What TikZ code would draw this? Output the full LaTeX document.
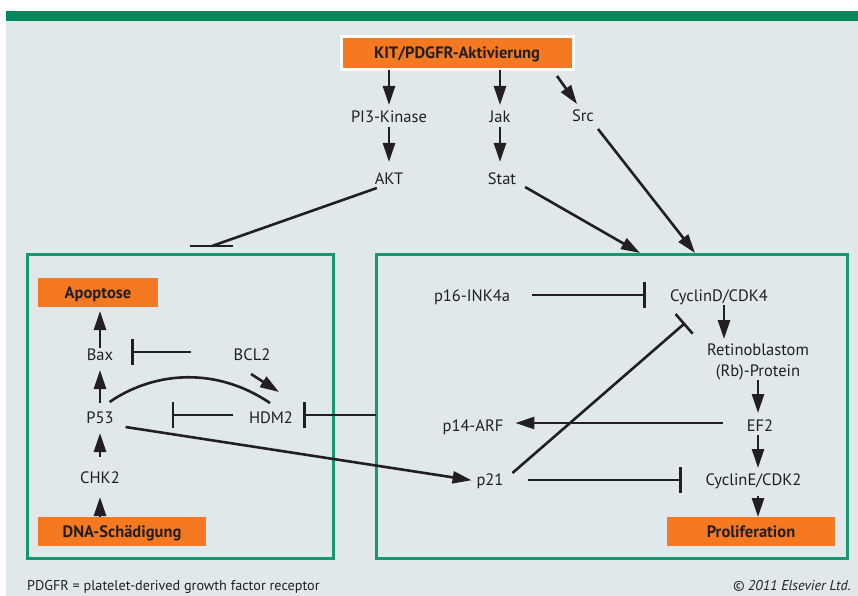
\documentclass[tikz,border=0pt]{standalone}
\usepackage{fontspec}
\setmainfont{PT Sans}
\usetikzlibrary{arrows.meta,calc}
\definecolor{bgc}{HTML}{E0E8EB}
\definecolor{barc}{HTML}{00875A}
\definecolor{boxg}{HTML}{13996B}
\definecolor{org}{HTML}{F47920}
\definecolor{ink}{HTML}{231F20}
\tikzset{
  lbl/.style={anchor=base, font=\fontsize{16.5}{19}\selectfont, text=ink, inner sep=0pt, outer sep=0pt, text height=12pt, text depth=4pt},
  obox/.style={fill=org, font=\bfseries\fontsize{16.5}{19}\selectfont, text=ink, inner sep=0pt, outer sep=0pt, text height=11pt, text depth=0pt},
  gbox/.style={draw=boxg, line width=3pt, inner sep=0pt, outer sep=0pt},
  act/.style={draw=ink, line width=2.6pt, -{Triangle[length=19pt,width=12pt]}},
  inh/.style={draw=ink, line width=2.6pt, -{Bar[width=26pt,line width=2.6pt]}},
  ln/.style={draw=ink, line width=2.6pt},
  foot/.style={font=\fontsize{14.2}{16}\selectfont, text=ink, inner sep=0pt}
}
\begin{document}
\begin{tikzpicture}[x=1pt,y=-1pt]
\useasboundingbox (0,0) rectangle (858,596);
\fill[white] (0,0) rectangle (858,596);
\fill[bgc] (6,21) rectangle (858,596);
\fill[barc] (6,11) rectangle (858,21);

% top
\node[obox, draw=white, line width=3pt, minimum width=232pt, minimum height=33pt] (kit) at (457,53.5) {KIT/PDGFR-Aktivierung};
\node[lbl] (pi3) at (389,122.5) {PI3-Kinase};
\node[lbl] (jak) at (500,122.5) {Jak};
\node[lbl] (src) at (583,122) {Src};
\node[lbl] (akt) at (389,184) {AKT};
\node[lbl] (stat) at (502,184) {Stat};

% boxes
\node[gbox, minimum width=306pt, minimum height=304pt] (lbox) at (180,406) {};
\node[gbox, minimum width=471pt, minimum height=304pt] (rbox) at (611.5,406) {};
\coordinate (cdin1) at (640,253);
\coordinate (cdin2) at (695,253);
\coordinate (aktT) at (212,246);

% left box
\node[obox, minimum width=120pt, minimum height=29pt] (apo) at (98,292.5) {Apoptose};
\node[lbl] (bax) at (100,360) {Bax};
\node[lbl] (bcl) at (252,360) {BCL2};
\node[lbl] (p53) at (100,423) {P53};
\node[lbl] (hdm) at (271,423) {HDM2};
\node[lbl] (chk) at (100,483) {CHK2};
\node[obox, minimum width=168pt, minimum height=29pt] (dna) at (122,531.5) {DNA-Schädigung};

% right box
\node[lbl] (p16) at (472,301) {p16-INK4a};
\node[lbl] (cycd) at (719,301) {CyclinD/CDK4};
\node[lbl] (rb1) at (758,355.5) {Retinoblastom};
\node[lbl] (rb2) at (758,376) {(Rb)-Protein};
\node[lbl] (ef2) at (760,431) {EF2};
\node[lbl] (p14) at (473,431) {p14-ARF};
\node[lbl] (cyce) at (753.5,485) {CyclinE/CDK2};
\node[lbl] (p21) at (490,485) {p21};
\node[obox, minimum width=168pt, minimum height=29pt] (pro) at (751,531.5) {Proliferation};

% footer
\node[foot, anchor=base west] (fl) at (27,590) {PDGFR = platelet-derived growth factor receptor};
\node[foot, anchor=base east] (fr) at (851,590) {\itshape © 2011 Elsevier Ltd.};

% top connectors
\draw[act, shorten >=5.5pt] (kit.south -| pi3) -- (pi3.north);
\draw[act, shorten >=5.5pt] (kit.south -| jak) -- (jak.north);
\draw[act] ($(kit.south east)+(-16,6)$) -- ($(src.north)+(-6,-6)$);
\draw[act, shorten <=0.5pt, shorten >=10pt] (pi3.south) -- (akt.north);
\draw[act, shorten <=0.5pt, shorten >=10pt] (jak.south) -- (jak.south |- stat.north);
\draw[ln] ($(akt.south west)+(2,0)$) -- (aktT);
\draw[ln] ($(aktT)+(-22,0)$) -- ($(aktT)+(21,0)$);
\draw[act] ($(stat.south east)+(9,-1)$) -- (cdin1);
\draw[act] ($(src.south)+(15,3)$) -- (cdin2);

% left connectors
\draw[act, shorten >=4pt] (bax.north) -- (bax.north |- apo.south);
\draw[act, shorten <=8pt, shorten >=6pt] (p53.north) -- (bax.south);
\draw[act, shorten <=14pt, shorten >=6pt] (chk.north) -- (p53.south);
\draw[act, shorten >=10pt] (dna.north -| chk) -- (chk.south);
\draw[inh, shorten <=43pt, shorten >=18pt] ([yshift=4pt]bcl.west) -- ([yshift=4pt]bcl.west -| bax.east);
\draw[act] ($(bcl.south)+(-1,10)$) -- ($(hdm.north)+(8,-19)$);
\draw[ln] ($(p53.north east)+(-4,-9)$) .. controls (150,374) and (212,364) .. ($(hdm.north)+(-1,-8)$);
\draw[inh, shorten <=16pt, shorten >=58pt] ([yshift=4pt]hdm.west) -- ([yshift=4pt]hdm.west -| p53.east);
\draw[inh, shorten >=10pt] ([yshift=4pt]hdm.east -| rbox.west) -- ([yshift=4pt]hdm.east);
\draw[act, shorten >=5pt] ($(p53.east)+(12,8)$) -- (p21.west);

% right connectors
\draw[inh, shorten <=22pt, shorten >=24pt] ([yshift=2pt]p16.east) -- ([yshift=2pt]cycd.west);
\draw[act, shorten >=4.5pt] ([xshift=5pt]cycd.south) -- ([xshift=5pt]cycd.south |- rb1.north);
\draw[act, shorten >=6pt] (rb2.south) -- (rb2.south |- ef2.north);
\draw[act, shorten >=5pt] (rb2.south |- ef2.south) -- (rb2.south |- cyce.north);
\draw[act, shorten <=7pt] (rb2.south |- cyce.south) -- (rb2.south |- pro.north);
\draw[act, shorten <=24pt, shorten >=12pt] ([yshift=4pt]ef2.west) -- ([yshift=4pt]ef2.west -| p14.east);
\draw[inh, shorten <=25pt, shorten >=24pt] ([yshift=1pt]p21.east) -- ([yshift=1pt]p21.east -| cyce.west);
\draw[inh] ($(p21.north east)+(9,0)$) -- ($(cycd.south west)+(15,18)$);
\end{tikzpicture}
\end{document}
